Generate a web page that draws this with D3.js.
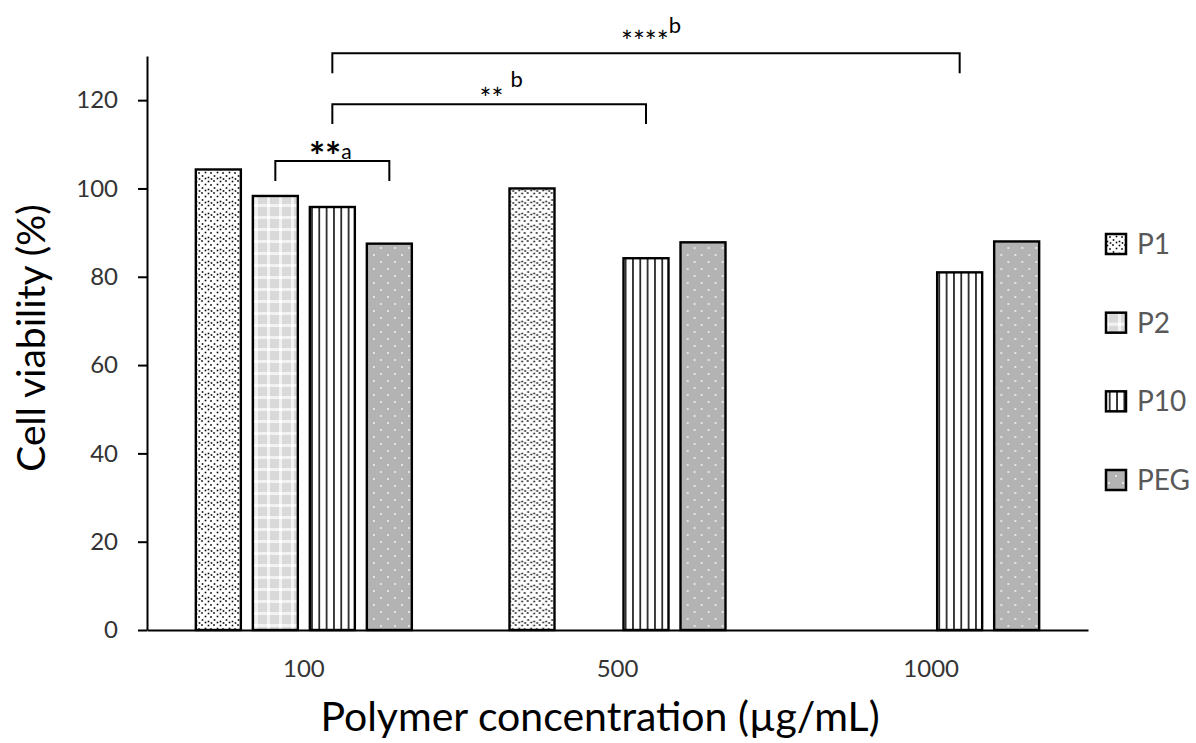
<!DOCTYPE html>
<html><head><meta charset="utf-8">
<script src="https://cdn.jsdelivr.net/npm/d3@7"></script>
<style>
body{margin:0;background:#fff;}
svg{display:block;font-family:Lato,"Open Sans",sans-serif;}
</style>
</head><body>
<svg id="chart" width="1196" height="743"></svg>
<script>
// ---- data ----
const categories = ["100", "500", "1000"];
const seriesNames = ["P1", "P2", "P10", "PEG"];
const P1  = [104.3, 100.0, null];
const P2  = [98.3, null, null];
const P10 = [95.8, 84.2, 81.0];
const PEG = [87.5, 87.8, 88.0];
const yTicks = [0, 20, 40, 60, 80, 100, 120];
const yMax = 130;
const xTitle = "Polymer concentration (µg/mL)";
const yTitle = "Cell viability (%)";
const bracketFrom   = [["100","P2"], ["100","P10"], ["100","P10"]];
const bracketTo     = [["100","PEG"], ["500","P10"], ["1000","P10"]];
const bracketLevel  = [106.2, 119.1, 130.6];
const bracketStars  = ["**", "**", "****"];
const bracketLetter = ["a", "b", "b"];

const seriesValues = {P1, P2, P10, PEG};

// ---- layout ----
const svg = d3.select("#chart");
const M = {left:147, right:1088, top:56, bottom:630};

const x0 = d3.scaleBand().domain(categories).range([M.left, M.right]).padding(0);
const bw = x0.bandwidth();
const x1 = d3.scaleBand().domain(seriesNames)
  .range([bw/2 - 114, bw/2 + 114]).paddingInner(12/57).paddingOuter(6/57);
const y = d3.scaleLinear().domain([0, yMax]).range([M.bottom, M.top]);

// ---- patterns ----
const defs = svg.append("defs");
{
  const p = defs.append("pattern").attr("id","pat-P1").attr("patternUnits","userSpaceOnUse")
    .attr("width",12).attr("height",12);
  p.append("rect").attr("width",12).attr("height",12).attr("fill","#fff");
  [[1.5,1.5],[7,1],[10.5,4.5],[4,5],[7.5,8],[1.5,9.5],[10.5,10.5],[4.5,11]].forEach(d=>
    p.append("rect").attr("x",d[0]-0.8).attr("y",d[1]-0.8).attr("width",1.6).attr("height",1.6).attr("fill","#000"));
}
{
  const p = defs.append("pattern").attr("id","pat-P2").attr("patternUnits","userSpaceOnUse")
    .attr("width",12).attr("height",12);
  p.append("rect").attr("width",12).attr("height",12).attr("fill","#d9d9d9");
  p.append("rect").attr("x",0).attr("y",0).attr("width",12).attr("height",3).attr("fill","#f2f2f2");
  p.append("rect").attr("x",0).attr("y",0).attr("width",3).attr("height",12).attr("fill","#f2f2f2");
  p.append("rect").attr("x",0).attr("y",0).attr("width",3).attr("height",3).attr("fill","#ffffff");
}
{
  const p = defs.append("pattern").attr("id","pat-P10").attr("patternUnits","userSpaceOnUse")
    .attr("width",7.33).attr("height",10);
  p.append("rect").attr("width",7.33).attr("height",10).attr("fill","#fff");
  p.append("rect").attr("x",2.9).attr("width",1.6).attr("height",10).attr("fill","#111");
}
{
  const p = defs.append("pattern").attr("id","pat-PEG").attr("patternUnits","userSpaceOnUse")
    .attr("width",14).attr("height",14);
  p.append("rect").attr("width",14).attr("height",14).attr("fill","#b3b3b3");
  [[3,3],[10,10]].forEach(d=>
    p.append("rect").attr("x",d[0]-0.8).attr("y",d[1]-0.8).attr("width",1.6).attr("height",1.6).attr("fill","#fff"));
}

// ---- bars ----
const rows = categories.map((c,i)=>({cat:c, vals:seriesNames.map(s=>({s, v:seriesValues[s][i]})).filter(d=>d.v!=null)}));
const g = svg.append("g").selectAll("g").data(rows).join("g")
  .attr("transform", d=>`translate(${x0(d.cat)},0)`);
g.selectAll("rect").data(d=>d.vals).join("rect")
  .attr("x", d=>x1(d.s)).attr("width", x1.bandwidth())
  .attr("y", d=>y(d.v)).attr("height", d=>y(0)-y(d.v))
  .attr("fill", d=>`url(#pat-${d.s})`).attr("stroke","#000").attr("stroke-width",2.4);

// ---- axes ----
const yAxis = svg.append("g").attr("transform",`translate(${M.left},0)`)
  .call(d3.axisLeft(y).tickValues(yTicks).tickSize(9).tickSizeOuter(0).tickPadding(20));
yAxis.selectAll("path,line").attr("stroke","#000").attr("stroke-width",2);
yAxis.selectAll("text").attr("font-size",24).attr("fill","#333").attr("font-family","Lato");

const xAxis = svg.append("g").attr("transform",`translate(0,${M.bottom})`)
  .call(d3.axisBottom(x0).tickSize(0).tickSizeOuter(0).tickPadding(30));
xAxis.select("path").attr("stroke","#000").attr("stroke-width",2);
xAxis.selectAll("text").attr("font-size",24).attr("fill","#333").attr("font-family","Lato");

svg.append("text").attr("x",600).attr("y",731)
  .attr("text-anchor","middle").attr("font-size",41).attr("fill","#000").text(xTitle);
svg.append("text").attr("transform",`translate(45,338) rotate(-90)`)
  .attr("text-anchor","middle").attr("font-size",39).attr("fill","#000").text(yTitle);

// ---- legend ----
const legY = d3.scalePoint().domain(seriesNames).range([244, 480]);
const lg = svg.append("g").selectAll("g").data(seriesNames).join("g")
  .attr("transform", d=>`translate(1106,${legY(d)})`);
lg.append("rect").attr("x",0).attr("y",-10).attr("width",20).attr("height",20)
  .attr("fill",d=>`url(#pat-${d})`).attr("stroke","#000").attr("stroke-width",2.5);
lg.append("text").attr("x",31).attr("y",0).attr("dy","0.36em")
  .attr("font-size",28).attr("fill","#595959").text(d=>d);

// ---- significance brackets ----
const cx = (pair)=> x0(pair[0]) + x1(pair[1]) + x1.bandwidth()/2;
const legLen = 4.5; // in value units
bracketLevel.forEach((lv,i)=>{
  const xa = cx(bracketFrom[i]), xb = cx(bracketTo[i]);
  const yl = y(lv), yb = y(lv - legLen);
  svg.append("path").attr("d",`M${xa},${yb}V${yl}H${xb}V${yb}`)
    .attr("fill","none").attr("stroke","#000").attr("stroke-width",2);
});
// labels
{
  const xa = cx(bracketFrom[0]), xb = cx(bracketTo[0]);
  const t = svg.append("text").attr("x",(xa+xb)/2 - 2).attr("y",y(bracketLevel[0]) - 2)
    .attr("text-anchor","middle").attr("fill","#000");
  t.append("tspan").attr("font-size",38).attr("font-weight","bold").attr("dy",11).text(bracketStars[0]);
  t.append("tspan").attr("font-size",21).attr("dy",-11).text(bracketLetter[0]);
}
{
  const xa = cx(bracketFrom[1]), xb = cx(bracketTo[1]);
  const t = svg.append("text").attr("x",(xa+xb)/2 + 12).attr("y",y(bracketLevel[1]) - 2)
    .attr("text-anchor","middle").attr("fill","#000");
  t.append("tspan").attr("font-size",28).attr("dy",7).text(bracketStars[1] + " ");
  t.append("tspan").attr("font-size",22).attr("dy",-22).text(bracketLetter[1]);
}
{
  const xa = cx(bracketFrom[2]), xb = cx(bracketTo[2]);
  const t = svg.append("text").attr("x",(xa+xb)/2 + 5).attr("y",y(bracketLevel[2]) - 2)
    .attr("text-anchor","middle").attr("fill","#000");
  t.append("tspan").attr("font-size",28).attr("dy",1).text(bracketStars[2]);
  t.append("tspan").attr("font-size",22).attr("dy",-19).text(bracketLetter[2]);
}
</script>
</body></html>
